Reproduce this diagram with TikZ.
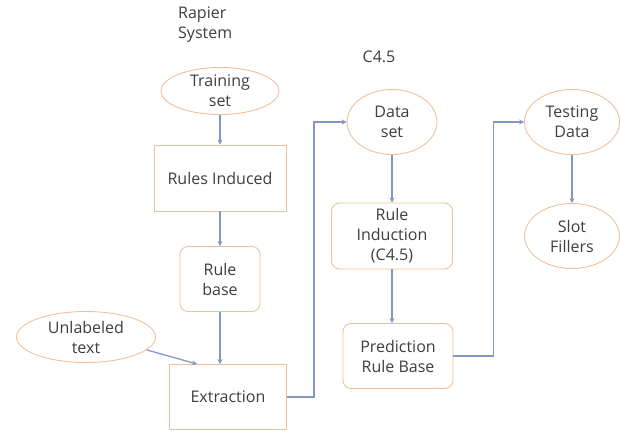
\documentclass[tikz,border=0pt]{standalone}
\usepackage{fontspec}
\setmainfont{Open Sans}
\usetikzlibrary{shapes.geometric,arrows.meta}

\definecolor{boxline}{HTML}{F0C09A}
\definecolor{flowline}{HTML}{8497C4}
\definecolor{labeltext}{HTML}{3E3E3E}

\begin{document}
\begin{tikzpicture}[x=1pt, y=-1pt,
    every node/.style={text=labeltext, font=\fontsize{16}{20}\selectfont, align=center, inner sep=0pt},
    oval/.style={ellipse, draw=boxline, line width=0.9pt},
    block/.style={rectangle, draw=boxline, line width=0.9pt},
    soft/.style={rectangle, rounded corners=8pt, draw=boxline, line width=0.9pt},
    arr/.style={draw=flowline, line width=1.3pt, -{Stealth[length=5pt, width=5pt]}}
]
\useasboundingbox (0,0) rectangle (621,432);

                % Headings
                \node[align=left, anchor=north west] (rapier) at (178,7) {Rapier\\System};
                \node (cfour) at (379,57) {C4.5};

                % Rapier side
                \node[oval, minimum width=118pt, minimum height=47pt] (train) at (220,91) {Training\\set};
                \node[block, minimum width=132pt, minimum height=66pt] (rinduced) at (220,178) {Rules Induced};
                \node[soft, minimum width=80pt, minimum height=65pt] (rbase) at (220,279) {Rule\\base};
                \node[oval, minimum width=139pt, minimum height=51pt] (unlab) at (86,337) {Unlabeled\\text};
                \node[block, minimum width=117pt, minimum height=65pt] (extract) at (228,397) {Extraction};

                % C4.5 side
                \node[oval, minimum width=90pt, minimum height=65pt] (dset) at (392,122) {Data\\set};
                \node[soft, minimum width=121pt, minimum height=66pt] (rinduct) at (392,236) {Rule\\Induction\\(C4.5)};
                \node[soft, minimum width=110pt, minimum height=65pt] (predict) at (398,356) {Prediction\\Rule Base};

                % Testing
                \node[oval, minimum width=95pt, minimum height=65pt] (tdata) at (572,122) {Testing\\Data};
                \node[oval, minimum width=95pt, minimum height=65pt] (slots) at (572,236) {Slot\\Fillers};

                % Arrows
                \draw[arr] (train) -- (rinduced);
                \draw[arr] (rinduced) -- (rbase);
                \draw[arr] (rbase.south) -- (rbase.south |- extract.north);
                \draw[arr] (unlab.-12) -- ([xshift=-31pt]extract.north);
                \draw[arr] (extract.east) -- ++(27,0) |- (dset.west);
                \draw[arr] (dset) -- (rinduct);
                \draw[arr] (rinduct.south) -- (rinduct.south |- predict.north);
                \draw[arr] (predict.east) -- ++(40,0) |- (tdata.west);
                \draw[arr] (tdata) -- (slots);

\end{tikzpicture}
\end{document}
